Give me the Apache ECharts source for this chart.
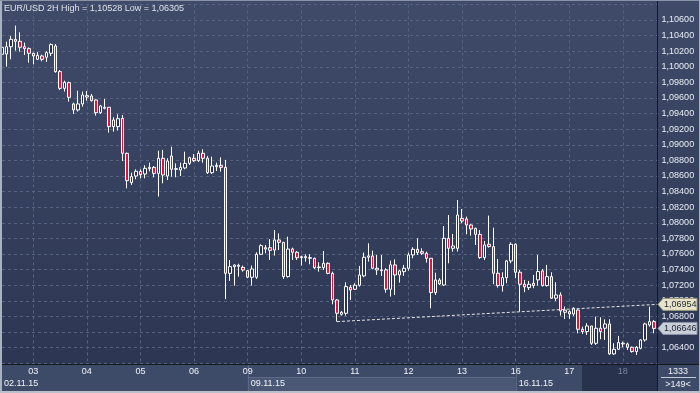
<!DOCTYPE html>
<html><head><meta charset="utf-8">
<script src="https://cdn.jsdelivr.net/npm/echarts@6/dist/echarts.min.js"></script>
<style>html,body{margin:0;padding:0;background:#2f3a57;}#c{width:700px;height:393px;}</style>
</head><body><div id="c"></div>
<script>
// ---- data: 2H candles, each [open, close, low, high] ----
const dayNames = ['02','03','04','05','06','09','10','11','12','13','16','17','18'];
const firstHour = [10,0,0,0,0,0,0,0,0,0,0,0,0];
const weekLabels = ['02.11.15','09.11.15','16.11.15'];
const weekStarts = ['09 00:00','16 00:00'];
const titleText = 'EUR/USD 2H High = 1,10528 Low = 1,06305';
const barCountText = '1333';
const visibleText = '>149<';
const lastPrice = 1.06646;
const trendEndPrice = 1.06954;
const trendline = [[75, 1.06733], [147, 1.06955]];

const d02 = [[1.1016,1.1025,1.1012,1.1027],[1.10164,1.10258,1.10002,1.10322],[1.10258,1.10352,1.10096,1.10395],[1.10352,1.10327,1.10207,1.10528],[1.10327,1.10250,1.10194,1.10442],[1.10258,1.10233,1.10152,1.10310],[1.10233,1.10173,1.10053,1.10250]];
const d03 = [[1.10173,1.10139,1.10032,1.10181],[1.10096,1.10147,1.10087,1.10190],[1.10139,1.10096,1.10070,1.10156],[1.10122,1.10181,1.10062,1.10199],[1.10173,1.10284,1.10139,1.10301],[1.10267,1.09938,1.09925,1.10292],[1.09938,1.09724,1.09703,1.09959],[1.09724,1.09801,1.09682,1.09822],[1.09797,1.09609,1.09554,1.09810],[1.09524,1.09447,1.09396,1.09541],[1.09447,1.09524,1.09426,1.09694],[1.09524,1.09639,1.09489,1.09682]];
const d04 = [[1.09613,1.09630,1.09566,1.09690],[1.09626,1.09566,1.09554,1.09651],[1.09575,1.09412,1.09374,1.09583],[1.09412,1.09498,1.09396,1.09511],[1.09468,1.09481,1.09455,1.09588],[1.09481,1.09233,1.09156,1.09481],[1.09233,1.09318,1.09169,1.09353],[1.09233,1.09335,1.09182,1.09391],[1.09339,1.08891,1.08791,1.09382],[1.08891,1.08540,1.08442,1.08900],[1.08515,1.08592,1.08485,1.08643],[1.08600,1.08660,1.08558,1.08686]];
const d05 = [[1.08660,1.08617,1.08570,1.08686],[1.08626,1.08698,1.08570,1.08737],[1.08694,1.08711,1.08660,1.08771],[1.08711,1.08634,1.08583,1.08728],[1.08634,1.08827,1.08336,1.08925],[1.08827,1.08613,1.08506,1.08934],[1.08600,1.08792,1.08549,1.08827],[1.08857,1.08686,1.08592,1.08976],[1.08694,1.08686,1.08583,1.08762],[1.08677,1.08711,1.08600,1.08771],[1.08703,1.08762,1.08686,1.08912],[1.08762,1.08835,1.08741,1.08848]];
const d06 = [[1.08827,1.08797,1.08780,1.08882],[1.08797,1.08891,1.08780,1.08925],[1.08891,1.08827,1.08771,1.08942],[1.08827,1.08643,1.08626,1.08857],[1.08643,1.08728,1.08626,1.08848],[1.08720,1.08737,1.08664,1.08771],[1.08737,1.08711,1.08656,1.08839],[1.08711,1.07353,1.07021,1.08806],[1.07352,1.07438,1.07254,1.07523],[1.07438,1.07459,1.07194,1.07468],[1.07442,1.07455,1.07310,1.07476],[1.07429,1.07395,1.07374,1.07451]];
const d09 = [[1.07387,1.07302,1.07289,1.07387],[1.07302,1.07408,1.07194,1.07451],[1.07302,1.07596,1.07280,1.07622],[1.07596,1.07707,1.07587,1.07724],[1.07681,1.07664,1.07609,1.07715],[1.07681,1.07647,1.07523,1.07792],[1.07651,1.07780,1.07579,1.07908],[1.07780,1.07750,1.07651,1.07865],[1.07750,1.07310,1.07280,1.07750],[1.07310,1.07664,1.07297,1.07822],[1.07664,1.07622,1.07523,1.07681],[1.07622,1.07553,1.07523,1.07639]];
const d10 = [[1.07566,1.07553,1.07451,1.07579],[1.07553,1.07566,1.07502,1.07596],[1.07553,1.07545,1.07468,1.07596],[1.07545,1.07425,1.07408,1.07553],[1.07425,1.07433,1.07374,1.07493],[1.07425,1.07481,1.07395,1.07639],[1.07481,1.07352,1.07340,1.07493],[1.07352,1.07011,1.06955,1.07374],[1.07011,1.06840,1.06733,1.07024],[1.06827,1.06853,1.06810,1.06870],[1.06840,1.07182,1.06810,1.07237],[1.07173,1.07139,1.07011,1.07203]];
const d11 = [[1.07148,1.07199,1.07139,1.07225],[1.07199,1.07331,1.07182,1.07447],[1.07319,1.07558,1.07302,1.07618],[1.07558,1.07575,1.07502,1.07737],[1.07575,1.07417,1.07404,1.07643],[1.07396,1.07417,1.07331,1.07588],[1.07396,1.07387,1.07319,1.07588],[1.07396,1.07148,1.07105,1.07417],[1.07148,1.07460,1.07054,1.07515],[1.07460,1.07331,1.07075,1.07532],[1.07331,1.07383,1.07233,1.07396],[1.07374,1.07417,1.07319,1.07460]];
const d12 = [[1.07417,1.07588,1.07387,1.07618],[1.07588,1.07660,1.07545,1.07686],[1.07660,1.07618,1.07588,1.07801],[1.07630,1.07609,1.07588,1.07673],[1.07609,1.07545,1.07490,1.07630],[1.07545,1.07105,1.06904,1.07545],[1.07105,1.07267,1.07075,1.07361],[1.07267,1.07216,1.07203,1.07289],[1.07203,1.07801,1.07190,1.07959],[1.07801,1.07673,1.07481,1.08100],[1.07673,1.07703,1.07630,1.07857],[1.07673,1.08100,1.07630,1.08292]];
const d13 = [[1.08057,1.08023,1.07993,1.08177],[1.08049,1.07972,1.07852,1.08079],[1.07972,1.07921,1.07835,1.07981],[1.07929,1.07852,1.07716,1.07938],[1.07852,1.07554,1.07537,1.07908],[1.07554,1.07716,1.07524,1.07767],[1.07725,1.07695,1.07682,1.08092],[1.07695,1.07353,1.07212,1.07938],[1.07353,1.07195,1.07169,1.07537],[1.07195,1.07297,1.07118,1.07366],[1.07297,1.07511,1.07225,1.07524],[1.07511,1.07725,1.07481,1.07750]];
const d16 = [[1.07725,1.07366,1.07289,1.07737],[1.07366,1.07212,1.06862,1.07395],[1.07212,1.07178,1.07110,1.07268],[1.07169,1.07212,1.07139,1.07255],[1.07225,1.07195,1.07161,1.07332],[1.07268,1.07375,1.07195,1.07588],[1.07383,1.07195,1.07182,1.07409],[1.07195,1.07310,1.07182,1.07460],[1.07310,1.07033,1.07024,1.07366],[1.07033,1.07075,1.06998,1.07238],[1.07075,1.06870,1.06810,1.07109],[1.06853,1.06880,1.06768,1.06926]];
const d17 = [[1.06861,1.06831,1.06768,1.06879],[1.06831,1.06904,1.06806,1.06917],[1.06882,1.06635,1.06583,1.06891],[1.06635,1.06605,1.06575,1.06669],[1.06605,1.06677,1.06562,1.06712],[1.06677,1.06455,1.06434,1.06677],[1.06455,1.06648,1.06434,1.06797],[1.06648,1.06605,1.06507,1.06788],[1.06648,1.06703,1.06498,1.06763],[1.06703,1.06319,1.06306,1.06763],[1.06319,1.06379,1.06305,1.06456],[1.06379,1.06464,1.06370,1.06550]];
const d18 = [[1.06447,1.06456,1.06404,1.06477],[1.06447,1.06404,1.06370,1.06464],[1.06404,1.06349,1.06336,1.06413],[1.06349,1.06404,1.06306,1.06421],[1.06391,1.06498,1.06378,1.06507],[1.06498,1.06703,1.06477,1.06720],[1.06690,1.06733,1.06669,1.06925],[1.06733,1.06646,1.06583,1.06754]];
const days = [d02,d03,d04,d05,d06,d09,d10,d11,d12,d13,d16,d17,d18];

// ---- build categories / series ----
const categories = [];
const candles = [];
days.forEach((arr, di) => {
  arr.forEach((c, i) => {
    const h = firstHour[di] + 2 * i;
    categories.push(dayNames[di] + ' ' + (h < 10 ? '0' + h : '' + h) + ':00');
    candles.push(c);
  });
});
categories.push('');
const lastDay = dayNames[dayNames.length - 1];
const isDayStart = (i, v) => typeof v === 'string' && v.slice(3) === '00:00';

const FONT = '"Liberation Sans", Arial, sans-serif';
const fmt = v => v.toFixed(5).replace('.', ',');

const chart = echarts.init(document.getElementById('c'), null, {renderer: 'canvas'});
chart.setOption({
  animation: false,
  backgroundColor: {type: 'linear', x: 0, y: 0, x2: 0, y2: 1,
    colorStops: [{offset: 0, color: '#3f4b69'}, {offset: 1, color: '#2b3552'}]},
  grid: {left: 2, right: 41.4, top: 4.4, bottom: 29.8},
  xAxis: {
    type: 'category', data: categories, boundaryGap: false,
    axisLine: {show: false}, axisTick: {show: false},
    axisLabel: {
      interval: isDayStart, margin: 4, fontSize: 9, fontFamily: FONT, color: '#f0f3f8',
      formatter: v => v.slice(0, 2) === lastDay ? '{g|' + v.slice(0, 2) + '}' : v.slice(0, 2),
      rich: {g: {color: '#76839c', fontSize: 9, fontFamily: FONT}}
    },
    splitLine: {show: true, interval: isDayStart, lineStyle: {color: '#56627f', type: [3, 3], width: 1}}
  },
  yAxis: {
    type: 'value', position: 'right', min: 1.062, max: 1.108, interval: 0.002, scale: true,
    axisLine: {show: false}, axisTick: {show: false},
    axisLabel: {
      margin: 3, fontSize: 9, fontFamily: FONT, color: '#e9edf4',
      showMinLabel: false, showMaxLabel: false,
      formatter: v => Math.abs(v - 1.066) < 1e-7 ? '' : fmt(v)
    },
    splitLine: {show: true, lineStyle: {color: '#56627f', type: [3, 3], width: 1}}
  },
  series: [
    {
      type: 'candlestick', data: candles, barWidth: 3,
      itemStyle: {color: '#28324e', color0: '#e3133f', borderColor: '#ffffff', borderColor0: '#ffffff', borderWidth: 1}
    },
    {
      type: 'line', data: trendline, symbol: 'none', z: 3,
      lineStyle: {color: '#e6e6e6', width: 1, type: [3, 2]}
    }
  ]
});

const yTrend = chart.convertToPixel({yAxisIndex: 0}, trendEndPrice);
const yLast = chart.convertToPixel({yAxisIndex: 0}, lastPrice);
const xW1 = chart.convertToPixel({xAxisIndex: 0}, weekStarts[0]);
const xW2 = chart.convertToPixel({xAxisIndex: 0}, weekStarts[1]);

function tag(y, fill, stroke, text) {
  return [
    {type: 'polygon', z: 20, shape: {points: [[658, y], [663, y - 6], [697, y - 6], [697, y + 6], [663, y + 6]]},
      style: {fill: fill, stroke: stroke, lineWidth: 1}},
    {type: 'text', z: 21, x: 664, y: y, style: {text: text, fill: '#1f2530', font: '9px ' + FONT, textVerticalAlign: 'middle', textAlign: 'left'}}
  ];
}

chart.setOption({
  graphic: [
    // bottom axis band
    {type: 'rect', z: -1, shape: {x: 0, y: 364, width: 700, height: 29}, style: {fill: '#3e4b68'}},
    {type: 'rect', z: -1, shape: {x: xW1, y: 377, width: xW2 - xW1, height: 14}, style: {fill: '#4a5876'}},
    {type: 'line', z: -1, shape: {x1: xW1, y1: 377.5, x2: xW2, y2: 377.5}, style: {stroke: '#5c6a87', lineWidth: 1}},
    {type: 'line', z: -1, shape: {x1: Math.round(xW1) + 0.5, y1: 365, x2: Math.round(xW1) + 0.5, y2: 391}, style: {stroke: '#5a6884', lineWidth: 1}},
    {type: 'line', z: -1, shape: {x1: Math.round(xW2) + 0.5, y1: 365, x2: Math.round(xW2) + 0.5, y2: 391}, style: {stroke: '#5a6884', lineWidth: 1}},
    {type: 'rect', z: -1, shape: {x: 582, y: 365, width: 75, height: 26}, style: {fill: '#28324c'}},
    // week labels
    {type: 'text', z: 5, x: 4, y: 384, style: {text: weekLabels[0], fill: '#f0f3f8', font: '9px ' + FONT, textVerticalAlign: 'middle'}},
    {type: 'text', z: 5, x: xW1 + 3, y: 384, style: {text: weekLabels[1], fill: '#f0f3f8', font: '9px ' + FONT, textVerticalAlign: 'middle'}},
    {type: 'text', z: 5, x: xW2 + 3, y: 384, style: {text: weekLabels[2], fill: '#f0f3f8', font: '9px ' + FONT, textVerticalAlign: 'middle'}},
    // corner box
    {type: 'text', z: 5, x: 678, y: 371.5, style: {text: barCountText, fill: '#f0f3f8', font: '9px ' + FONT, textAlign: 'center', textVerticalAlign: 'middle'}},
    {type: 'line', z: 5, shape: {x1: 661, y1: 377.5, x2: 696, y2: 377.5}, style: {stroke: '#c4cad5', lineWidth: 1}},
    {type: 'text', z: 5, x: 678, y: 384.5, style: {text: visibleText, fill: '#f0f3f8', font: '9px ' + FONT, textAlign: 'center', textVerticalAlign: 'middle'}},
    // separators
    {type: 'line', z: 10, shape: {x1: 0, y1: 364.5, x2: 700, y2: 364.5}, style: {stroke: '#14171e', lineWidth: 1}},
    {type: 'line', z: 10, shape: {x1: 657.5, y1: 0, x2: 657.5, y2: 391}, style: {stroke: '#14171e', lineWidth: 1}},
    // title
    {type: 'text', z: 10, x: 4, y: 8.5, style: {text: titleText, fill: '#dfe3ea', font: '9px ' + FONT, textVerticalAlign: 'middle'}},
    // price tags
    ...tag(yTrend, '#e8e4c8', '#9a977f', fmt(trendEndPrice)),
    ...tag(yLast, '#c9cfda', '#8b93a3', fmt(lastPrice)),
    // outer border
    {type: 'line', z: 30, shape: {x1: 1, y1: 0, x2: 1, y2: 393}, style: {stroke: '#a9b2c1', lineWidth: 2}},
    {type: 'line', z: 30, shape: {x1: 0, y1: 392, x2: 700, y2: 392}, style: {stroke: '#b9c0cc', lineWidth: 2}},
    {type: 'line', z: 30, shape: {x1: 699.5, y1: 0, x2: 699.5, y2: 393}, style: {stroke: '#a9b2c1', lineWidth: 1}},
    {type: 'line', z: 30, shape: {x1: 0, y1: 0.5, x2: 700, y2: 0.5}, style: {stroke: '#8993a5', lineWidth: 1}}
  ]
});
</script></body></html>
